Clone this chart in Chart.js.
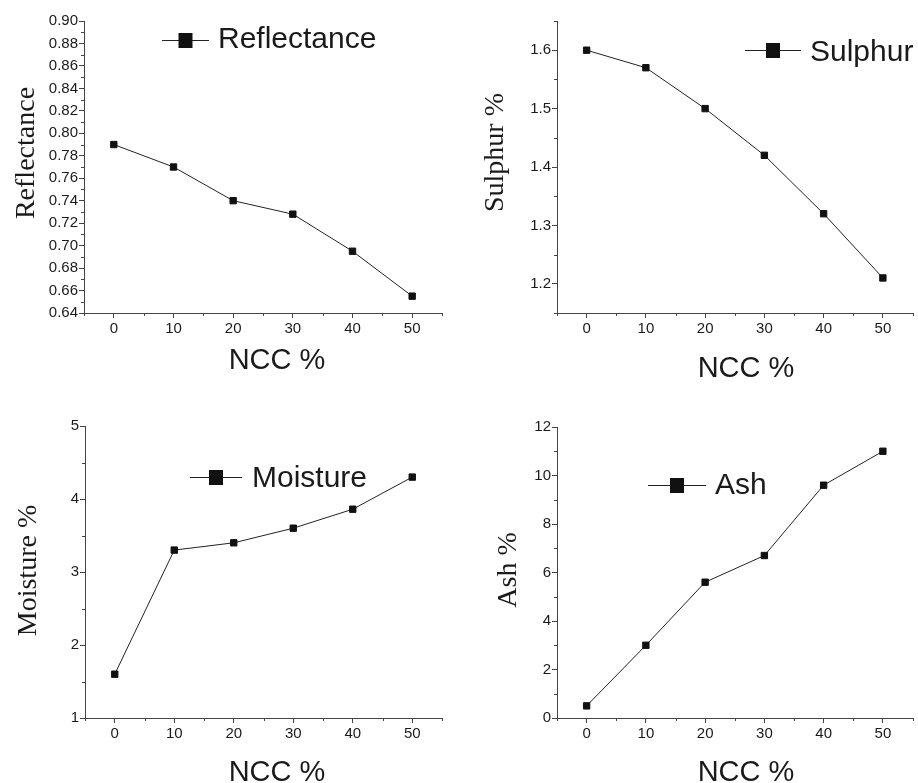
<!DOCTYPE html>
<html>
<head>
<meta charset="utf-8">
<script src="https://cdn.jsdelivr.net/npm/chart.js@4/dist/chart.umd.min.js"></script>
<style>
  html, body { margin: 0; padding: 0; background: #ffffff; }
  body { width: 918px; height: 783px; position: relative; overflow: hidden; }
  canvas { position: absolute; }
</style>
</head>
<body>
<canvas id="c1"></canvas>
<canvas id="c2"></canvas>
<canvas id="c3"></canvas>
<canvas id="c4"></canvas>
<script>
// ---------------- data ----------------
const ncc = [0, 10, 20, 30, 40, 50];
const reflectance = [0.79, 0.77, 0.74, 0.728, 0.695, 0.655];
const sulphur = [1.60, 1.57, 1.50, 1.42, 1.32, 1.21];
const moisture = [1.6, 3.3, 3.4, 3.6, 3.86, 4.3];
const ash = [0.5, 3.0, 5.6, 6.7, 9.6, 11.0];

const xTicks = [0, 10, 20, 30, 40, 50];
const reflTicks = [0.64, 0.66, 0.68, 0.70, 0.72, 0.74, 0.76, 0.78, 0.80, 0.82, 0.84, 0.86, 0.88, 0.90];
const sulphurTicks = [1.2, 1.3, 1.4, 1.5, 1.6];
const moistureTicks = [1, 2, 3, 4, 5];
const ashTicks = [0, 2, 4, 6, 8, 10, 12];

const xTitleText = 'NCC %';
const seriesLabels = ['Reflectance', 'Sulphur', 'Moisture', 'Ash'];
const yTitles = ['Reflectance', 'Sulphur %', 'Moisture %', 'Ash %'];
// --------------------------------------

const AXIS = '#444444';
const TEXT = '#1a1a1a';
const SANS = '"Liberation Sans", Arial, Helvetica, sans-serif';
const SERIF = '"Liberation Serif", "Times New Roman", Times, serif';

Chart.defaults.font.family = SANS;
Chart.defaults.color = TEXT;

function minorsOf(majors, min, max) {
  const out = [];
  const step = majors[1] - majors[0];
  const start = majors[0] - step / 2;
  for (let v = start; v <= max + 1e-9; v += step) {
    if (v >= min - 1e-9) out.push(+v.toFixed(6));
  }
  return out;
}

const decorPlugin = {
  id: 'decor',
  afterDraw(chart, args, o) {
    const ctx = chart.ctx;
    const xs = chart.scales.x, ys = chart.scales.y;
    const area = chart.chartArea;
    ctx.save();
    // minor ticks
    ctx.strokeStyle = AXIS;
    ctx.lineWidth = 1;
    ctx.beginPath();
    o.minorX.forEach(v => {
      const px = Math.round(xs.getPixelForValue(v)) + 0.5;
      ctx.moveTo(px, area.bottom);
      ctx.lineTo(px, area.bottom + 3);
    });
    o.minorY.forEach(v => {
      const py = Math.round(ys.getPixelForValue(v)) + 0.5;
      ctx.moveTo(area.left, py);
      ctx.lineTo(area.left - 3, py);
    });
    ctx.stroke();

    // legend
    const L = o.legend;
    ctx.strokeStyle = '#222';
    ctx.beginPath();
    ctx.moveTo(L.x1, L.my + 0.5);
    ctx.lineTo(L.x2, L.my + 0.5);
    ctx.stroke();
    ctx.fillStyle = '#111';
    ctx.fillRect(L.mx - 7, L.my - 7, 14, 15);
    ctx.fillStyle = TEXT;
    ctx.font = '30px ' + SANS;
    ctx.textAlign = 'left';
    ctx.textBaseline = 'alphabetic';
    ctx.fillText(chart.data.datasets[0].label, L.tx, L.ty);

    // x title
    ctx.font = '29px ' + SANS;
    ctx.textAlign = 'center';
    ctx.fillText(o.xTitle.text, o.xTitle.x, o.xTitle.y);

    // y title (rotated)
    ctx.save();
    ctx.translate(o.yTitle.x, o.yTitle.y);
    ctx.rotate(-Math.PI / 2);
    ctx.font = '28px ' + SERIF;
    ctx.textAlign = 'center';
    ctx.textBaseline = 'alphabetic';
    ctx.fillText(o.yTitle.text, 0, 0);
    ctx.restore();

    ctx.restore();
  }
};

function makeChart(id, p) {
  const cv = document.getElementById(id);
  cv.width = p.w; cv.height = p.h;
  cv.style.left = p.left + 'px';
  cv.style.top = p.top + 'px';
  cv.style.width = p.w + 'px';
  cv.style.height = p.h + 'px';
  const pts = ncc.map((x, i) => ({ x: x, y: p.values[i] }));
  return new Chart(cv, {
    type: 'scatter',
    data: {
      datasets: [{
        label: p.label,
        data: pts,
        showLine: true,
        borderColor: '#222',
        borderWidth: 1,
        pointStyle: 'rect',
        pointRadius: 4.5,
        pointHoverRadius: 4.5,
        pointBackgroundColor: '#111',
        pointBorderColor: '#111',
        pointBorderWidth: 1,
        clip: false
      }]
    },
    options: {
      responsive: false,
      devicePixelRatio: 1,
      animation: false,
      events: [],
      layout: { padding: { left: 0, top: p.area.t, right: p.w - p.area.r, bottom: 0 } },
      plugins: {
        legend: { display: false },
        tooltip: { enabled: false },
        decor: {
          minorX: minorsOf(xTicks, -5, 55),
          minorY: minorsOf(p.yTicks, p.yMin, p.yMax),
          legend: p.legend,
          xTitle: { text: xTitleText, x: p.xTitle.x, y: p.xTitle.y },
          yTitle: { text: p.yTitle, x: p.yTitlePos.x, y: p.yTitlePos.y }
        }
      },
      scales: {
        x: {
          type: 'linear',
          position: 'bottom',
          min: -5, max: 55,
          afterBuildTicks: s => { s.ticks = xTicks.map(v => ({ value: v })); },
          afterFit: s => { s.height = p.h - p.area.b; },
          ticks: { font: { size: 15 }, color: TEXT, padding: 2, maxRotation: 0, autoSkip: false,
                   callback: v => String(v) },
          grid: { display: true, drawOnChartArea: false, drawTicks: true, tickLength: 5, color: AXIS, lineWidth: 1 },
          border: { display: true, color: AXIS, width: 1 }
        },
        y: {
          type: 'linear',
          position: 'left',
          min: p.yMin, max: p.yMax,
          afterBuildTicks: s => { s.ticks = p.yTicks.map(v => ({ value: v })); },
          afterFit: s => { s.width = p.area.l; },
          ticks: { font: { size: 15 }, color: TEXT, padding: 1, autoSkip: false,
                   callback: v => Number(v).toFixed(p.dec) },
          grid: { display: true, drawOnChartArea: false, drawTicks: true, tickLength: 5, color: AXIS, lineWidth: 1 },
          border: { display: true, color: AXIS, width: 1 }
        }
      }
    },
    plugins: [decorPlugin]
  });
}

makeChart('c1', {
  left: 0, top: 0, w: 459, h: 390,
  area: { l: 84, t: 21, r: 442, b: 313 },
  values: reflectance, label: seriesLabels[0], yTitle: yTitles[0],
  yTicks: reflTicks, yMin: 0.64, yMax: 0.90, dec: 2,
  legend: { x1: 162, x2: 209, mx: 185.5, my: 40, tx: 218, ty: 48 },
  xTitle: { x: 277, y: 369 },
  yTitlePos: { x: 34, y: 153 }
});

makeChart('c2', {
  left: 459, top: 0, w: 459, h: 390,
  area: { l: 98, t: 21, r: 455, b: 313 },
  values: sulphur, label: seriesLabels[1], yTitle: yTitles[1],
  yTicks: sulphurTicks, yMin: 1.15, yMax: 1.65, dec: 1,
  legend: { x1: 286, x2: 342, mx: 314, my: 50, tx: 351, ty: 61 },
  xTitle: { x: 287, y: 377 },
  yTitlePos: { x: 44, y: 152.5 }
});

makeChart('c3', {
  left: 0, top: 390, w: 459, h: 393,
  area: { l: 85, t: 36, r: 442, b: 328 },
  values: moisture, label: seriesLabels[2], yTitle: yTitles[2],
  yTicks: moistureTicks, yMin: 1, yMax: 5, dec: 0,
  legend: { x1: 190, x2: 242, mx: 216, my: 87, tx: 252, ty: 97 },
  xTitle: { x: 277, y: 391 },
  yTitlePos: { x: 36, y: 180.5 }
});

makeChart('c4', {
  left: 459, top: 390, w: 459, h: 393,
  area: { l: 98, t: 37, r: 455, b: 328 },
  values: ash, label: seriesLabels[3], yTitle: yTitles[3],
  yTicks: ashTicks, yMin: 0, yMax: 12, dec: 0,
  legend: { x1: 189, x2: 247, mx: 218, my: 95, tx: 256, ty: 104 },
  xTitle: { x: 287, y: 391 },
  yTitlePos: { x: 57, y: 180 }
});
</script>
</body>
</html>
